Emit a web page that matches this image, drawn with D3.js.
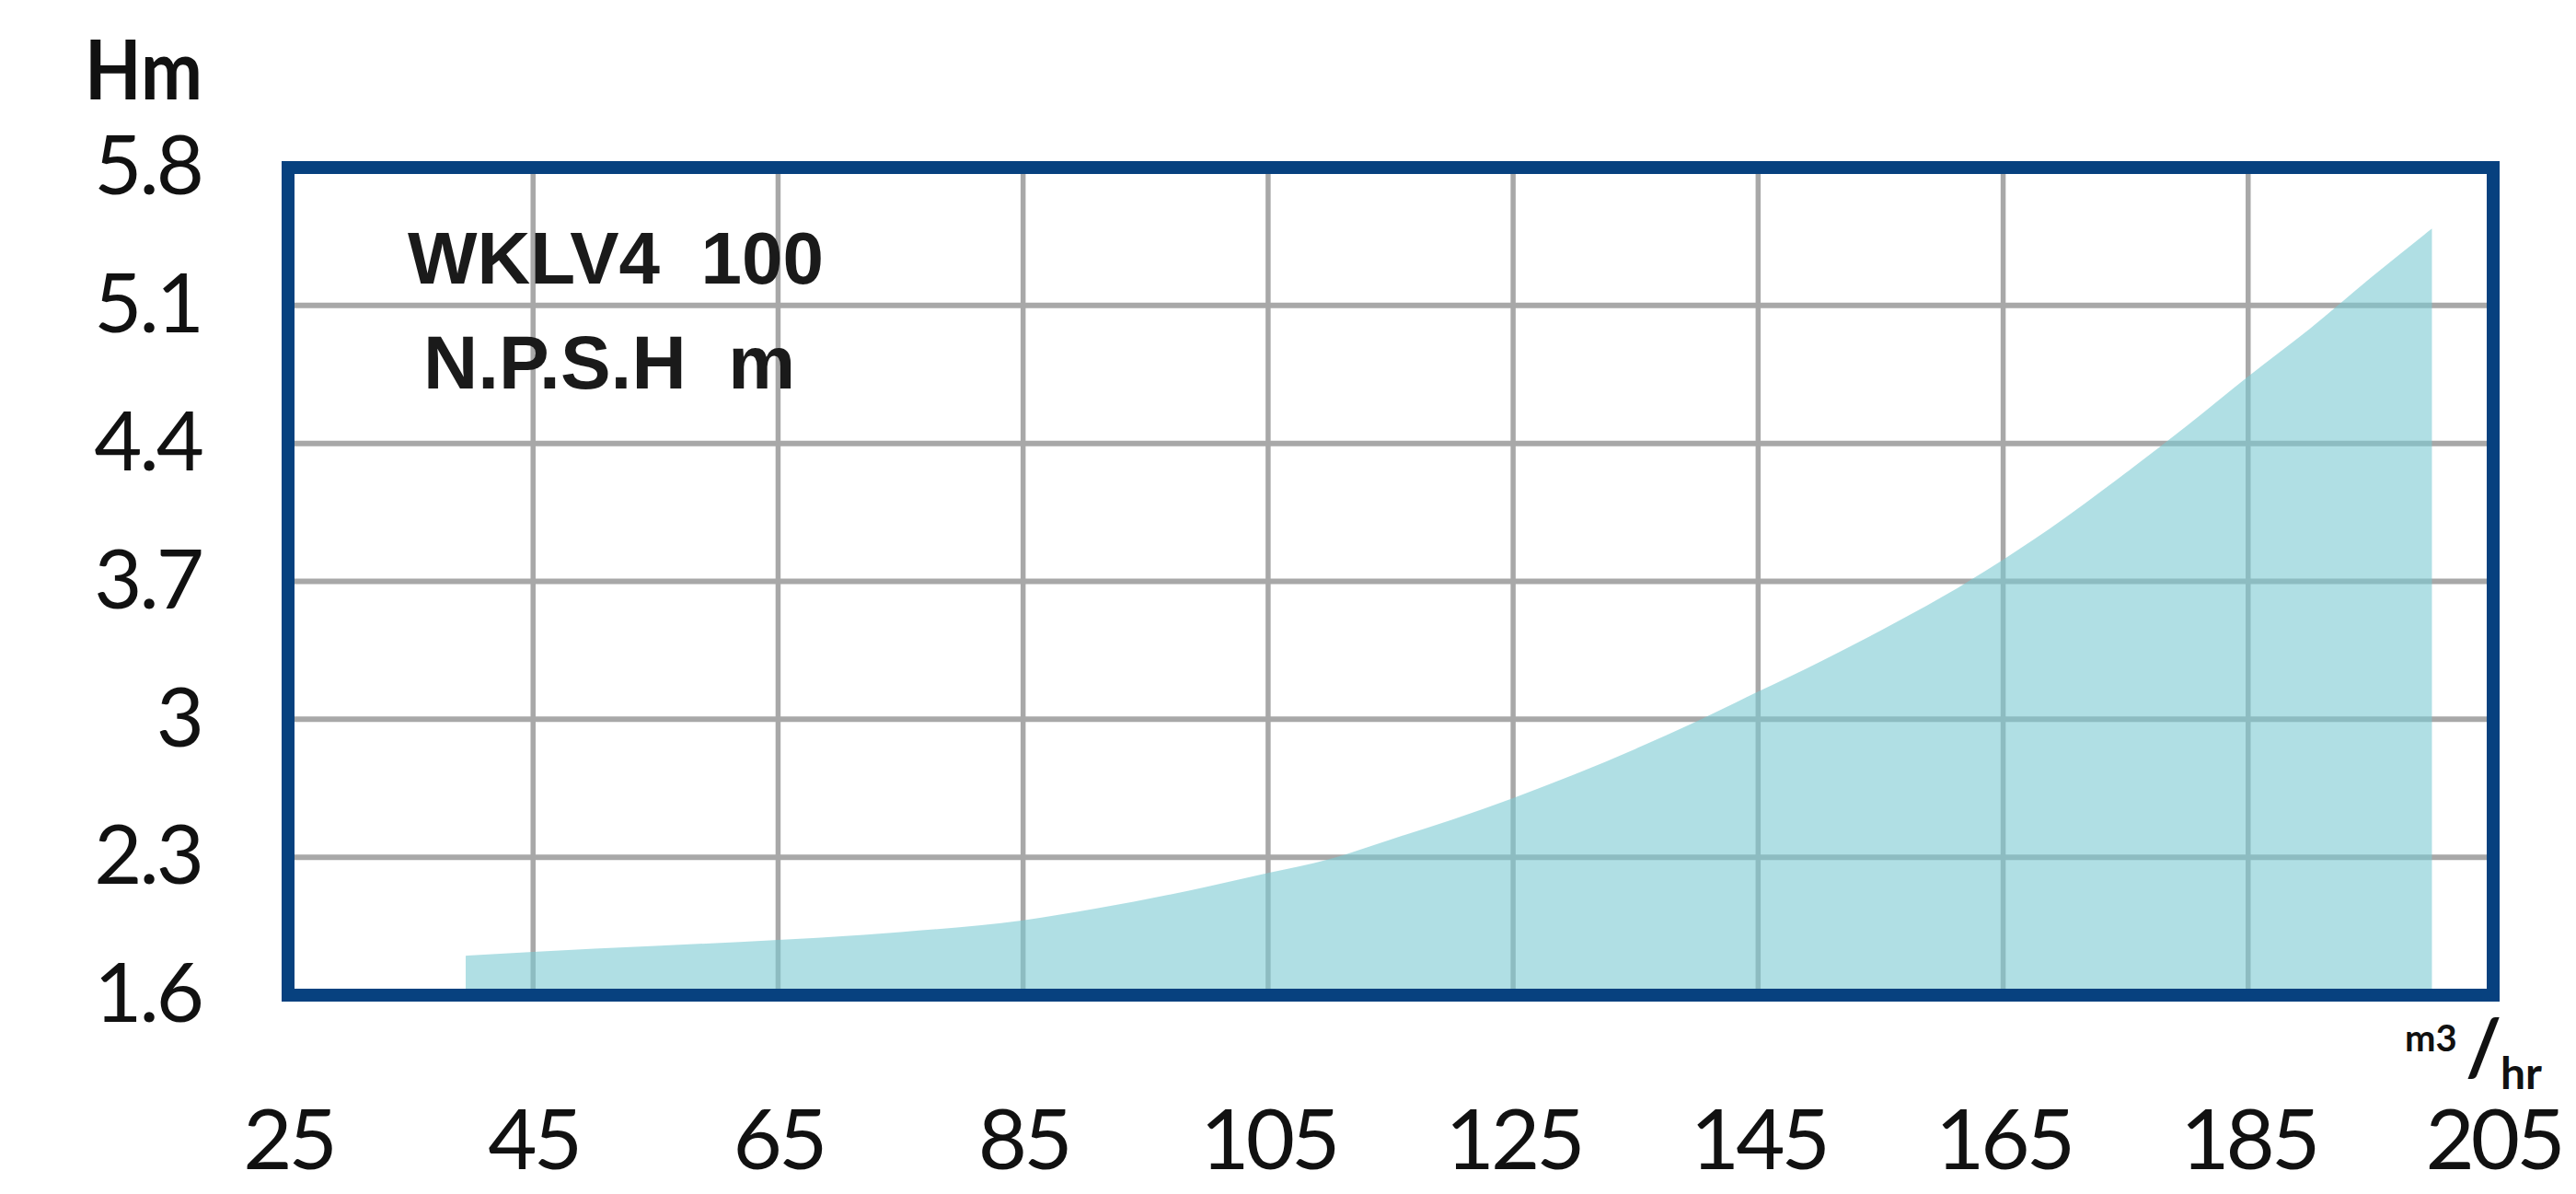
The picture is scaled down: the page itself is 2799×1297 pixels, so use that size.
<!DOCTYPE html>
<html>
<head>
<meta charset="utf-8">
<script src="https://cdn.jsdelivr.net/npm/d3@7"></script>
<style>
  html, body { margin: 0; padding: 0; background: #ffffff; }
  svg { display: block; }
</style>
</head>
<body>
<svg id="chart" width="2799" height="1297"></svg>
<script>
// ---- data ----
const flowQ = [39.5, 45, 55, 65, 75, 85, 91, 100, 105, 110, 115, 120, 125, 130, 135, 140, 145, 150, 155, 160, 165, 170, 175, 180, 185, 190, 195, 200];
const npshH = [1.80, 1.82, 1.85, 1.88, 1.92, 1.98, 2.04, 2.15, 2.22, 2.29, 2.39, 2.49, 2.60, 2.72, 2.85, 2.99, 3.14, 3.29, 3.45, 3.62, 3.81, 4.02, 4.25, 4.49, 4.74, 4.98, 5.24, 5.49];
const xTicks = [25, 45, 65, 85, 105, 125, 145, 165, 185, 205];
const yTicks = [1.6, 2.3, 3, 3.7, 4.4, 5.1, 5.8];
const titleLines = ["WKLV4  100", "N.P.S.H  m"];
const yUnit = "Hm";

// ---- layout ----
const svg = d3.select("#chart");
const L = 313, R = 2709, T = 182, B = 1081;
const x = d3.scaleLinear().domain([25, 205]).range([L, R]);
const y = d3.scaleLinear().domain([1.6, 5.8]).range([B, T]);
const tickFont = "Lato, 'Open Sans', sans-serif";

// grid
const grid = svg.append("g");
grid.selectAll("line.v").data(xTicks.slice(1, -1)).join("line")
  .attr("x1", d => x(d)).attr("x2", d => x(d))
  .attr("y1", T).attr("y2", B)
  .attr("stroke", "#a8a8a8").attr("stroke-width", 5.5);
grid.selectAll("line.h").data(yTicks.slice(1, -1)).join("line")
  .attr("x1", L).attr("x2", R)
  .attr("y1", d => y(d)).attr("y2", d => y(d))
  .attr("stroke", "#a8a8a8").attr("stroke-width", 6);

// area
const pts = flowQ.map((q, i) => ({q, h: npshH[i]}));
const area = d3.area().x(d => x(d.q)).y0(y(1.6)).y1(d => y(d.h)).curve(d3.curveMonotoneX);
svg.append("path").datum(pts).attr("d", area)
  .attr("fill", "rgb(123,202,210)").attr("fill-opacity", 0.6);

// frame
svg.append("rect").attr("x", L).attr("y", T).attr("width", R - L).attr("height", B - T)
  .attr("fill", "none").attr("stroke", "#07417f").attr("stroke-width", 14);

// y axis labels
const yAxis = d3.axisLeft(y).tickValues(yTicks).tickSize(0).tickPadding(L - 219)
  .tickFormat(d => String(d));
const gy = svg.append("g").attr("transform", `translate(${L},0)`).call(yAxis);
gy.select(".domain").remove();
gy.selectAll("text").attr("font-family", tickFont).attr("font-size", 90)
  .attr("fill", "#111").attr("letter-spacing", -3);

// x axis labels
const xAxis = d3.axisBottom(x).tickValues(xTicks).tickSize(0).tickFormat(d => String(d));
const gx = svg.append("g").attr("transform", `translate(0,${B})`).call(xAxis);
gx.select(".domain").remove();
gx.selectAll("text").attr("dy", null).attr("y", 1270 - B)
  .attr("font-family", tickFont).attr("font-size", 92)
  .attr("fill", "#111").attr("letter-spacing", -4);

// Hm label
svg.append("text").attr("x", 92).attr("y", 108)
  .attr("font-family", tickFont).attr("font-weight", 700).attr("font-size", 90)
  .attr("textLength", 128).attr("lengthAdjust", "spacingAndGlyphs")
  .attr("fill", "#111").text(yUnit);

// title
svg.append("text").attr("x", 443).attr("y", 308)
  .attr("font-family", "'Liberation Sans', Arial, sans-serif").attr("font-weight", 700)
  .attr("font-size", 80).attr("fill", "#1a1a1a").attr("xml:space", "preserve")
  .style("white-space", "pre").text(titleLines[0]);
svg.append("text").attr("x", 460).attr("y", 422)
  .attr("font-family", "'Liberation Sans', Arial, sans-serif").attr("font-weight", 700)
  .attr("font-size", 82).attr("fill", "#1a1a1a").attr("xml:space", "preserve")
  .style("white-space", "pre").text(titleLines[1]);

// unit m3/hr
const unit = svg.append("g").attr("font-family", tickFont).attr("font-weight", 700).attr("fill", "#111");
unit.append("text").attr("x", 2613).attr("y", 1142).attr("font-size", 40).text("m3");
unit.append("text").attr("x", 2679).attr("y", 1168).attr("font-size", 84).text("/");
unit.append("text").attr("x", 2717).attr("y", 1183).attr("font-size", 48).text("hr");
</script>
</body>
</html>
